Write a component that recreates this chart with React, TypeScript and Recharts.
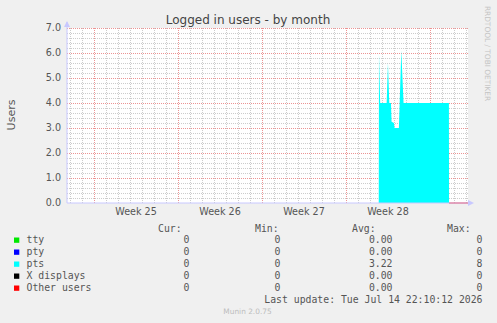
import React from "react";
import { ComposedChart, Area, Line, XAxis, YAxis } from "recharts";

// time in days from the left edge of the graph
const times = [25.98, 26.0, 26.1, 26.64, 26.75, 26.86, 27.0, 27.05, 27.25, 27.3, 27.66, 27.86, 28.05, 31.83, 31.84, 33.42];
const ptsValues = [0, 6.0, 4.0, 4.0, 5.6, 4.0, 4.0, 3.25, 3.2, 3.0, 3.0, 6.1, 4.0, 4.0, 0, 0];
const otherValues = [null, null, null, null, null, null, null, null, null, null, null, null, null, null, 0, 0];

const weekTicks = [5.75, 12.75, 19.75, 26.75];
const weekLabels = ["Week 25", "Week 26", "Week 27", "Week 28"];
const mondayLines = [2.25, 9.25, 16.25, 23.25, 30.25];
const yTicks = [0, 1, 2, 3, 4, 5, 6, 7];
const yMajor = [1, 2, 3, 4, 5, 6, 7];

const legendNames = ["tty", "pty", "pts", "X displays", "Other users"];
const legendColors = ["#00e800", "#0000ff", "#00ffff", "#000000", "#ff0000"];
const curValues = ["0", "0", "0", "0", "0"];
const minValues = ["0", "0", "0", "0", "0"];
const avgValues = ["0.00", "0.00", "3.22", "0.00", "0.00"];
const maxValues = ["0", "0", "8", "0", "0"];

// minor grid: one line per day, one per 0.2 users
const dayLines = Array.from({ length: 34 }, (_, i) => i + 0.25).filter(
  (d) => !mondayLines.includes(d)
);
const minorY = Array.from({ length: 35 }, (_, i) => (i + 1) / 5).filter(
  (v) => Math.abs(v - Math.round(v)) > 1e-6
);

const data = times.map((t, i) => ({
  t,
  pts: ptsValues[i],
  other: otherValues[i],
}));

const sans = "'DejaVu Sans', sans-serif";
const mono = "'DejaVu Sans Mono', monospace";

const X_MAX = 33.42;
const Y_MAX = 7;
// plot box
const L = 67;
const T = 28;
const W = 401;
const H = 175;
const gx = (d: number) => Math.round(L + (d * W) / X_MAX) + 0.5;
const gy = (v: number) => Math.round(T + H * (1 - v / Y_MAX)) + 0.5;

const MINOR = "#cccccc";
const MAJOR = "#ec9494";

export default function App() {
  return (
    <div
      style={{
        position: "absolute",
        left: 0,
        top: 0,
        width: 497,
        height: 323,
        background: "#f0f0f0",
      }}
    >
      {/* canvas + grid */}
      <svg width={497} height={323} style={{ position: "absolute", left: 0, top: 0 }}>
        <rect x={L} y={T} width={W} height={H} fill="#ffffff" />
        <g strokeDasharray="1 1" fill="none" shapeRendering="crispEdges">
          {minorY.map((v) => (
            <line key={"my" + v} x1={L} x2={L + W} y1={gy(v)} y2={gy(v)} stroke={MINOR} />
          ))}
          {dayLines.map((d) => (
            <line key={"mx" + d} x1={gx(d)} x2={gx(d)} y1={T} y2={T + H} stroke={MINOR} />
          ))}
          {yMajor.map((v) => (
            <line key={"My" + v} x1={L} x2={L + W} y1={gy(v)} y2={gy(v)} stroke={MAJOR} />
          ))}
          {mondayLines.map((d) => (
            <line key={"Mx" + d} x1={gx(d)} x2={gx(d)} y1={T} y2={T + H} stroke={MAJOR} />
          ))}
        </g>
      </svg>

      <div style={{ position: "absolute", left: 0, top: 0 }}>
        <ComposedChart
          width={497}
          height={323}
          data={data}
          margin={{ top: T, right: 497 - L - W, bottom: 100, left: L - 40 }}
        >
          <XAxis
            dataKey="t"
            type="number"
            domain={[0, X_MAX]}
            ticks={weekTicks}
            tickFormatter={(v: number) => weekLabels[weekTicks.indexOf(v)]}
            tickLine={false}
            tickSize={4}
            tickMargin={1}
            height={20}
            axisLine={{ stroke: "#c8c8ff" }}
            tick={{ fontSize: 9.6, fill: "#555", fontFamily: sans }}
            allowDataOverflow
          />
          <YAxis
            type="number"
            domain={[0, Y_MAX]}
            ticks={yTicks}
            tickFormatter={(v: number) => v.toFixed(1)}
            tickLine={false}
            tickSize={4}
            tickMargin={2}
            width={40}
            axisLine={{ stroke: "#c8c8ff" }}
            tick={{ fontSize: 9.6, fill: "#555", fontFamily: sans }}
          />
          <Line
            dataKey="other"
            stroke="#ff0000"
            strokeWidth={1}
            dot={false}
            isAnimationActive={false}
          />
          <Area
            dataKey="pts"
            type="linear"
            stroke="none"
            fill="#00ffff"
            fillOpacity={1}
            isAnimationActive={false}
          />
        </ComposedChart>
      </div>

      <svg
        width={497}
        height={323}
        style={{ position: "absolute", left: 0, top: 0, pointerEvents: "none" }}
      >
        {/* axis arrows */}
        <line x1={67} y1={28} x2={67} y2={22} stroke="#c8c8ff" />
        <polygon points="64,27 70,27 67,21" fill="#c8c8ff" />
        <line x1={468} y1={203} x2={472} y2={203} stroke="#c8c8ff" />
        <polygon points="468,200 468,206 474,203" fill="#c8c8ff" />

        <text x={248} y={23.5} textAnchor="middle" fontSize={12} fill="#444" fontFamily={sans}>
          Logged in users - by month
        </text>
        <text
          x={0}
          y={0}
          transform="translate(15,115) rotate(-90)"
          textAnchor="middle"
          fontSize={11}
          fill="#555"
          fontFamily={sans}
        >
          Users
        </text>
        <text
          x={0}
          y={0}
          transform="translate(485,53.5) rotate(90)"
          textAnchor="middle"
          fontSize={7.4}
          fill="#c4c4c4"
          fontFamily={sans}
        >
          RRDTOOL / TOBI OETIKER
        </text>

        <g fontFamily={mono} fontSize={9.8} fill="#555">
          <text x={158} y={231.5}>Cur:</text>
          <text x={255} y={231.5}>Min:</text>
          <text x={352} y={231.5}>Avg:</text>
          <text x={447} y={231.5}>Max:</text>
          {legendNames.map((name, i) => {
            const y = 243.2 + i * 12;
            return (
              <g key={name}>
                <rect x={14} y={y - 5.7} width={5.3} height={5.3} fill={legendColors[i]} />
                <text x={26.5} y={y}>{name}</text>
                <text x={189.5} y={y} textAnchor="end">{curValues[i]}</text>
                <text x={280.5} y={y} textAnchor="end">{minValues[i]}</text>
                <text x={392.5} y={y} textAnchor="end">{avgValues[i]}</text>
                <text x={482.5} y={y} textAnchor="end">{maxValues[i]}</text>
              </g>
            );
          })}
          <text x={482.5} y={302.5} textAnchor="end">
            Last update: Tue Jul 14 22:10:12 2026
          </text>
        </g>
        <text x={247.5} y={314} textAnchor="middle" fontSize={7.4} fill="#bdbdbd" fontFamily={sans}>
          Munin 2.0.75
        </text>
      </svg>
    </div>
  );
}
